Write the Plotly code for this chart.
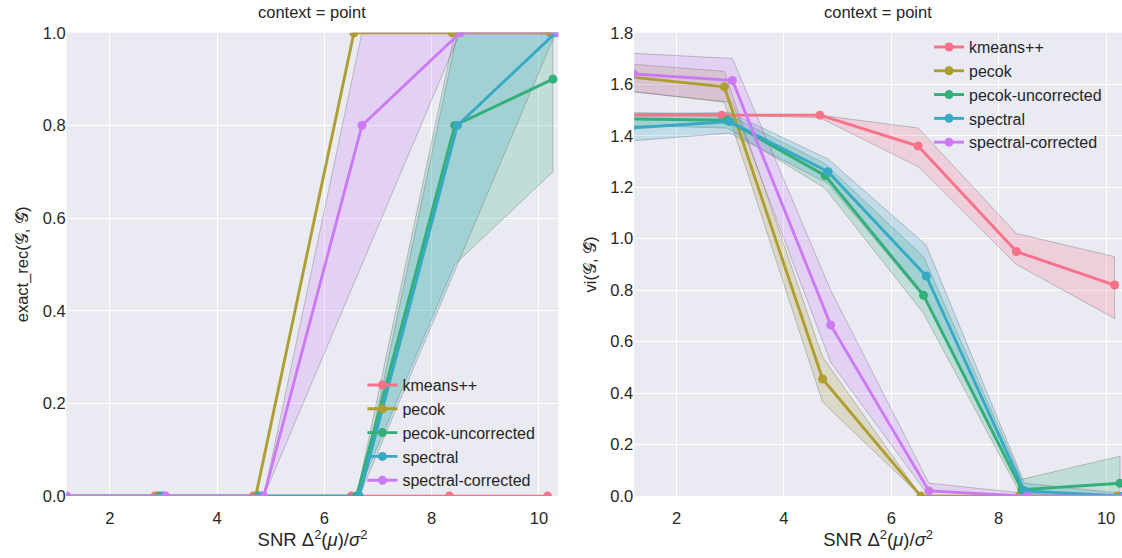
import plotly.graph_objects as go

# ---- data -------------------------------------------------------------
methods = ["kmeans++", "pecok", "pecok-uncorrected", "spectral", "spectral-corrected"]
colors = ["#f77189", "#ae9d31", "#33b07a", "#38a9c5", "#cc7af4"]

# SNR levels, each method shifted a little along x so the points don't overlap
snr_levels = [1.10, 2.94, 4.77, 6.60, 8.43, 10.26]
dodge = [-0.10, -0.05, 0.0, 0.05, 0.10]

# exact recovery rate (mean, lower, upper of the confidence band)
rec_mean = {
    "kmeans++":           [0, 0, 0, 0, 0, 0],
    "pecok":              [0, 0, 0, 1.0, 1.0, 1.0],
    "pecok-uncorrected":  [0, 0, 0, 0, 0.8, 0.9],
    "spectral":           [0, 0, 0, 0, 0.8, 1.0],
    "spectral-corrected": [0, 0, 0, 0.8, 1.0, 1.0],
}
rec_lo = {
    "kmeans++":           [0, 0, 0, 0, 0, 0],
    "pecok":              [0, 0, 0, 1.0, 1.0, 1.0],
    "pecok-uncorrected":  [0, 0, 0, 0, 0.5, 0.7],
    "spectral":           [0, 0, 0, 0, 0.5, 1.0],
    "spectral-corrected": [0, 0, 0, 0.5, 1.0, 1.0],
}
rec_hi = {
    "kmeans++":           [0, 0, 0, 0, 0, 0],
    "pecok":              [0, 0, 0, 1.0, 1.0, 1.0],
    "pecok-uncorrected":  [0, 0, 0, 0, 1.0, 1.0],
    "spectral":           [0, 0, 0, 0, 1.0, 1.0],
    "spectral-corrected": [0, 0, 0, 1.0, 1.0, 1.0],
}

# variation of information (mean, lower, upper of the confidence band)
vi_mean = {
    "kmeans++":           [1.48, 1.48, 1.48, 1.36, 0.95, 0.82],
    "pecok":              [1.63, 1.59, 0.455, 0.0, 0.0, 0.0],
    "pecok-uncorrected":  [1.465, 1.46, 1.245, 0.78, 0.025, 0.05],
    "spectral":           [1.43, 1.455, 1.26, 0.855, 0.02, 0.0],
    "spectral-corrected": [1.64, 1.615, 0.665, 0.02, 0.0, 0.0],
}
vi_lo = {
    "kmeans++":           [1.48, 1.48, 1.47, 1.28, 0.90, 0.69],
    "pecok":              [1.575, 1.53, 0.365, 0.0, 0.0, 0.0],
    "pecok-uncorrected":  [1.44, 1.43, 1.195, 0.71, 0.0, 0.0],
    "spectral":           [1.38, 1.41, 1.215, 0.76, 0.0, 0.0],
    "spectral-corrected": [1.57, 1.53, 0.52, 0.0, 0.0, 0.0],
}
vi_hi = {
    "kmeans++":           [1.48, 1.48, 1.48, 1.43, 1.02, 0.93],
    "pecok":              [1.68, 1.65, 0.54, 0.0, 0.0, 0.0],
    "pecok-uncorrected":  [1.49, 1.485, 1.29, 0.93, 0.065, 0.155],
    "spectral":           [1.485, 1.49, 1.31, 0.975, 0.05, 0.01],
    "spectral-corrected": [1.72, 1.70, 0.80, 0.05, 0.01, 0.0],
}

# ---- figure -----------------------------------------------------------
FONT = "Liberation Sans, Arial, sans-serif"
TXT = "#262626"
FS = 16.5
LEG_FS = 16


def rgba(hex_color, a):
    h = hex_color.lstrip("#")
    r, g, b = int(h[0:2], 16), int(h[2:4], 16), int(h[4:6], 16)
    return f"rgba({r},{g},{b},{a})"


fig = go.Figure()

panels = [
    ("x", "y", "legend", rec_mean, rec_lo, rec_hi),
    ("x2", "y2", "legend2", vi_mean, vi_lo, vi_hi),
]

for xa, ya, leg, mean, lo, hi in panels:
    # confidence bands first
    for m, c, d in zip(methods, colors, dodge):
        xs = [s + d for s in snr_levels]
        fig.add_trace(go.Scatter(
            x=xs + xs[::-1], y=lo[m] + hi[m][::-1],
            xaxis=xa, yaxis=ya, mode="lines", fill="toself",
            fillcolor=rgba(c, 0.22), line=dict(color="rgba(100,100,100,0.35)", width=1),
            showlegend=False, hoverinfo="skip",
        ))
    # mean curves on top
    for m, c, d in zip(methods, colors, dodge):
        xs = [s + d for s in snr_levels]
        fig.add_trace(go.Scatter(
            x=xs, y=mean[m], xaxis=xa, yaxis=ya, mode="lines+markers",
            name=m, legend=leg,
            line=dict(color=c, width=2.9), marker=dict(color=c, size=9),
        ))

axis_common = dict(
    showgrid=True, gridcolor="white", gridwidth=1.2, zeroline=False,
    showline=False, ticks="", tickfont=dict(size=FS, color=TXT, family=FONT),
)

xdom_l = [0.0594, 0.4976]
xdom_r = [0.5653, 1.0]
ydom = [0.098, 0.956]

snr_title = "SNR Δ<sup>2</sup>(<i>μ</i>)/<i>σ</i><sup>2</sup>"

fig.update_layout(
    width=1122, height=558,
    margin=dict(l=0, r=0, t=0, b=0),
    paper_bgcolor="white", plot_bgcolor="#EAEAF2",
    font=dict(family=FONT, size=FS, color=TXT),
    xaxis=dict(domain=xdom_l, range=[1.195, 10.36], tickvals=[2, 4, 6, 8, 10],
               anchor="y", ticklabelstandoff=10,
               title=dict(text=snr_title, font=dict(size=18.5), standoff=4),
               **axis_common),
    yaxis=dict(domain=ydom, range=[0, 1.0], tickvals=[0, 0.2, 0.4, 0.6, 0.8, 1.0],
               tickformat=".1f", anchor="x",
               title=dict(text="exact_rec(𝒢, 𝒢̂)", font=dict(size=FS), standoff=9),
               **axis_common),
    xaxis2=dict(domain=xdom_r, range=[1.212, 10.297], tickvals=[2, 4, 6, 8, 10],
                anchor="y2", ticklabelstandoff=10,
                title=dict(text=snr_title, font=dict(size=18.5), standoff=4),
                **axis_common),
    yaxis2=dict(domain=ydom, range=[0, 1.8],
                tickvals=[0, 0.2, 0.4, 0.6, 0.8, 1.0, 1.2, 1.4, 1.6, 1.8],
                tickformat=".1f", anchor="x2",
                title=dict(text="vi(𝒢, 𝒢̂)", font=dict(size=FS), standoff=9),
                **axis_common),
    legend=dict(x=0.323, y=0.335, xanchor="left", yanchor="top",
                bgcolor="rgba(0,0,0,0)", font=dict(size=LEG_FS, color=TXT),
                tracegroupgap=0, itemwidth=30),
    legend2=dict(x=0.828, y=0.961, xanchor="left", yanchor="top",
                 bgcolor="rgba(0,0,0,0)", font=dict(size=LEG_FS, color=TXT),
                 tracegroupgap=0, itemwidth=30),
    annotations=[
        dict(text="context = point", x=sum(xdom_l) / 2, y=0.974, xref="paper", yref="paper",
             xanchor="center", yanchor="bottom", showarrow=False,
             font=dict(size=FS, color=TXT)),
        dict(text="context = point", x=sum(xdom_r) / 2, y=0.974, xref="paper", yref="paper",
             xanchor="center", yanchor="bottom", showarrow=False,
             font=dict(size=FS, color=TXT)),
    ],
)

fig.write_html("out.html")
